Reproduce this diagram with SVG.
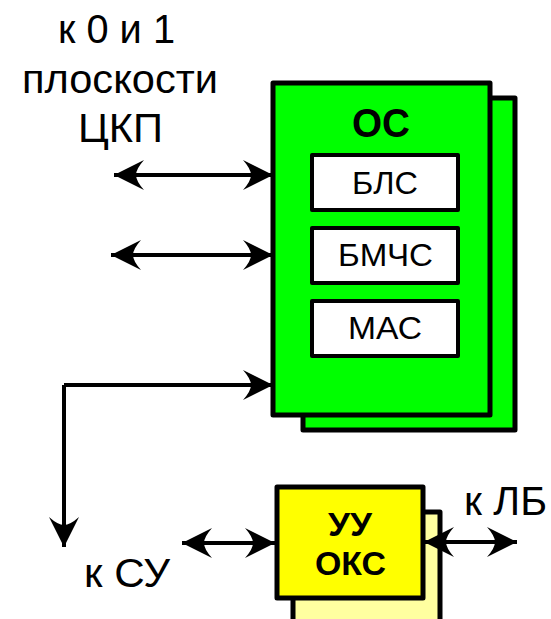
<svg xmlns="http://www.w3.org/2000/svg" width="551" height="619" viewBox="0 0 551 619">
<style>
.t{font-family:"Liberation Sans",Arial,sans-serif;fill:#000;text-anchor:middle}
.b{font-weight:bold}
.ln{stroke:#000;stroke-width:4;fill:none}
.box{stroke:#000;stroke-width:5;stroke-linejoin:round}
.in{fill:#fff;stroke:#000;stroke-width:4;stroke-linejoin:round}
</style>
<defs>
<marker id="ah" viewBox="-30 -16 32 32" refX="0" refY="0" markerWidth="32" markerHeight="32" markerUnits="userSpaceOnUse" orient="auto-start-reverse">
<path d="M0,0 L-30,-15 Q-22,-6 -22,0 Q-22,6 -30,15 Z" fill="#000"/>
</marker>
</defs>
<rect width="551" height="619" fill="#fff"/>
<g id="labels">
<text class="t" x="116.5" y="43" font-size="41" textLength="117" lengthAdjust="spacingAndGlyphs">к 0 и 1</text>
<text class="t" x="120" y="93" font-size="41" textLength="196" lengthAdjust="spacingAndGlyphs">плоскости</text>
<text class="t" x="120.5" y="142" font-size="41" textLength="85" lengthAdjust="spacingAndGlyphs">ЦКП</text>
<text class="t" x="127" y="587" font-size="41" textLength="86" lengthAdjust="spacingAndGlyphs">к СУ</text>
<text class="t" x="505.5" y="515" font-size="40" textLength="83" lengthAdjust="spacingAndGlyphs">к ЛБ</text>
</g>
<g id="os">
<rect class="box" x="303" y="98" width="212" height="332" fill="#00ff00"/>
<rect class="box" x="273" y="83" width="217" height="332" fill="#00ff00"/>
<text class="t b" x="381" y="137" font-size="40" textLength="58" lengthAdjust="spacingAndGlyphs">ОС</text>
</g>
<g id="bls">
<rect class="in" x="312" y="155" width="146" height="55"/>
<text class="t" x="385" y="194" font-size="32" textLength="66" lengthAdjust="spacingAndGlyphs">БЛС</text>
</g>
<g id="bmchs">
<rect class="in" x="312" y="228" width="146" height="55"/>
<text class="t" x="385.5" y="266" font-size="32" textLength="95" lengthAdjust="spacingAndGlyphs">БМЧС</text>
</g>
<g id="mas">
<rect class="in" x="312" y="301" width="146" height="55"/>
<text class="t" x="385" y="339" font-size="32" textLength="74" lengthAdjust="spacingAndGlyphs">МАС</text>
</g>
<g id="uu">
<rect class="box" x="293" y="512" width="147" height="115" fill="#ffffa0"/>
<rect class="box" x="277" y="487" width="146" height="111" fill="#ffff00"/>
<text class="t b" x="350" y="536" font-size="33" textLength="44" lengthAdjust="spacingAndGlyphs">УУ</text>
<text class="t b" x="350.5" y="575" font-size="34" textLength="71" lengthAdjust="spacingAndGlyphs">ОКС</text>
</g>
<g id="connectors">
<line class="ln" x1="114" y1="175" x2="273" y2="175" marker-start="url(#ah)" marker-end="url(#ah)"/>
<line class="ln" x1="111" y1="255" x2="273" y2="255" marker-start="url(#ah)" marker-end="url(#ah)"/>
<line class="ln" x1="64" y1="385" x2="273" y2="385" marker-end="url(#ah)"/>
<line class="ln" x1="64" y1="385" x2="64" y2="547" marker-end="url(#ah)"/>
<line class="ln" x1="182" y1="543" x2="275" y2="543" marker-start="url(#ah)" marker-end="url(#ah)"/>
<line class="ln" x1="424" y1="542" x2="517" y2="542" marker-start="url(#ah)" marker-end="url(#ah)"/>
</g>
</svg>
